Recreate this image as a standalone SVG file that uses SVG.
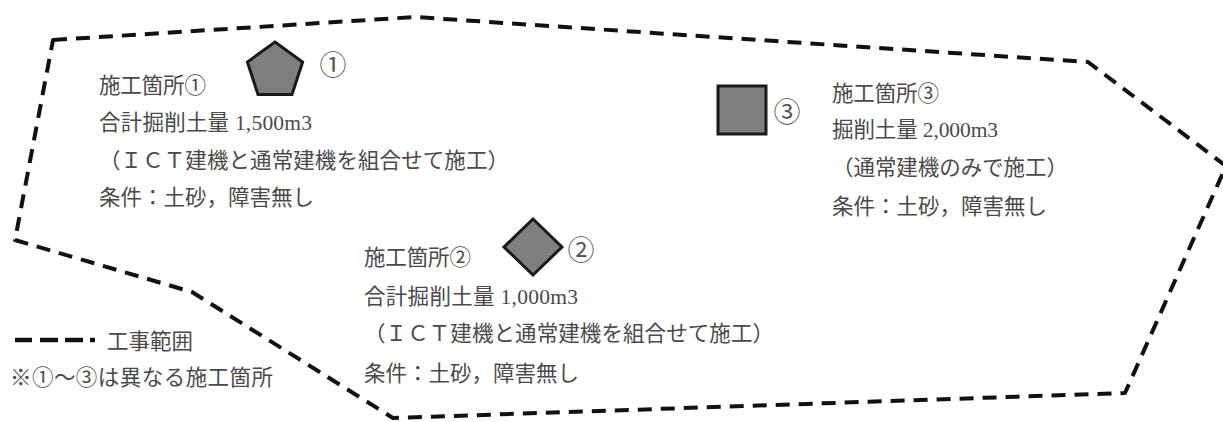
<svg xmlns="http://www.w3.org/2000/svg" width="1223" height="422" viewBox="0 0 1223 422">
  <style>
    .t { font-family: "Liberation Serif", "Noto Sans CJK JP", serif; font-size: 21.5px; fill: #4a4a4a; }
    .num { font-family: "Noto Sans CJK JP", sans-serif; font-size: 27px; fill: #555; text-anchor: middle; }
    .shape { fill: #7f7f7f; stroke: #1a1a1a; stroke-width: 3; stroke-linejoin: miter; }
    .bound { fill: none; stroke: #111; stroke-width: 4; stroke-dasharray: 14 9; stroke-linejoin: round; }
    .leg { stroke: #111; stroke-width: 4.5; }
  </style>
  <rect width="1223" height="422" fill="#ffffff"/>

  <g id="boundary">
    <path class="bound" d="M53,40 L415,17 L1088,62 L1226,166 L1125,393 L393,418 L192,292 L15,240 Z"/>
  </g>

  <g id="connectors"></g>

  <g id="node1">
    <polygon class="shape" points="275,42 302.6,62 292,94.5 258,94.5 247.4,62"/>
    <text class="num" x="333" y="75">①</text>
    <text class="t" x="99" y="93" textLength="107" lengthAdjust="spacing">施工箇所①</text>
    <text class="t" x="99" y="130" textLength="213" lengthAdjust="spacing">合計掘削土量 1,500m3</text>
    <text class="t" x="99" y="168" textLength="410" lengthAdjust="spacing">（ＩＣＴ建機と通常建機を組合せて施工）</text>
    <text class="t" x="99" y="205" textLength="215" lengthAdjust="spacing">条件：土砂，障害無し</text>
  </g>

  <g id="node2">
    <polygon class="shape" points="533,219 562,247 533,275 504,247"/>
    <text class="num" x="581" y="260">②</text>
    <text class="t" x="364" y="265" textLength="107" lengthAdjust="spacing">施工箇所②</text>
    <text class="t" x="364" y="304" textLength="214" lengthAdjust="spacing">合計掘削土量 1,000m3</text>
    <text class="t" x="364" y="341" textLength="410" lengthAdjust="spacing">（ＩＣＴ建機と通常建機を組合せて施工）</text>
    <text class="t" x="364" y="381" textLength="215" lengthAdjust="spacing">条件：土砂，障害無し</text>
  </g>

  <g id="node3">
    <rect class="shape" x="718" y="86" width="48" height="48"/>
    <text class="num" x="787" y="122">③</text>
    <text class="t" x="832" y="101" textLength="107" lengthAdjust="spacing">施工箇所③</text>
    <text class="t" x="832" y="137" textLength="166" lengthAdjust="spacing">掘削土量 2,000m3</text>
    <text class="t" x="832" y="175" textLength="236" lengthAdjust="spacing">（通常建機のみで施工）</text>
    <text class="t" x="832" y="214" textLength="215" lengthAdjust="spacing">条件：土砂，障害無し</text>
  </g>

  <g id="legend">
    <line class="leg" x1="15" y1="340" x2="32" y2="340"/>
    <line class="leg" x1="40" y1="340" x2="58" y2="340"/>
    <line class="leg" x1="65" y1="340" x2="83" y2="340"/>
    <line class="leg" x1="90" y1="340" x2="95" y2="340"/>
    <text class="t" x="107" y="349" textLength="86" lengthAdjust="spacing">工事範囲</text>
    <text class="t" x="10" y="385" textLength="263" lengthAdjust="spacing">※①～③は異なる施工箇所</text>
  </g>
</svg>
